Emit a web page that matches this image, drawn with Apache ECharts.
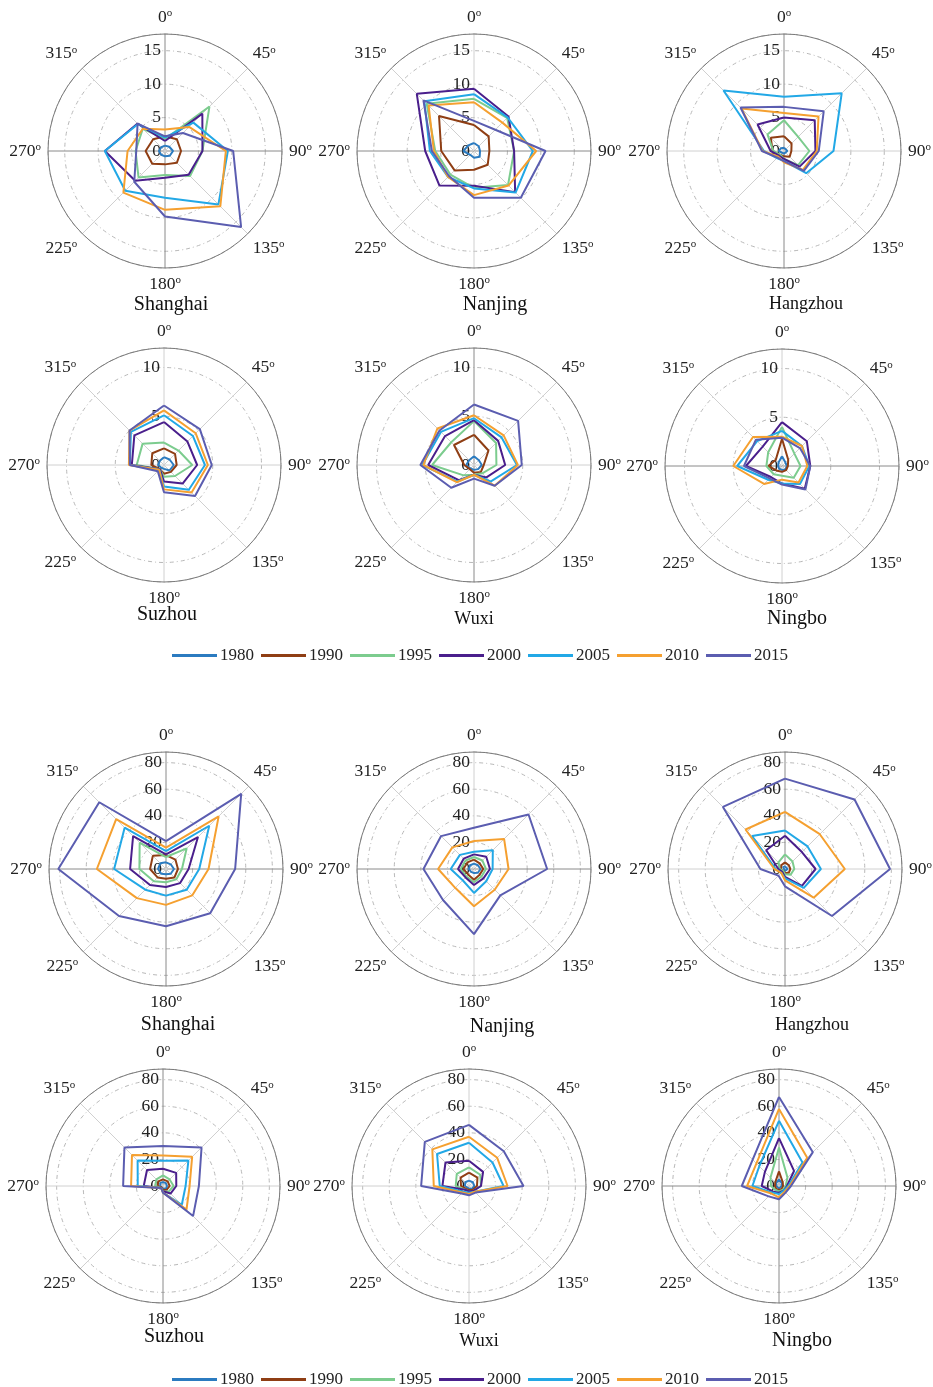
<!DOCTYPE html>
<html><head><meta charset="utf-8">
<script src="https://cdn.jsdelivr.net/npm/echarts@6/dist/echarts.min.js"></script>
<style>html,body{margin:0;padding:0;background:#fff}#c{width:933px;height:1387px}</style>
</head><body><div id="c"></div>
<script>
const years = ['1980','1990','1995','2000','2005','2010','2015'];
const colors = ['#2b7bc0','#8f3e14','#7ccc8e','#4a1f8c','#22a8e6','#f5a030','#5b5db0'];
const angles = [0,45,90,135,180,225,270,315];

// rows: years; columns: angles 0..315
const shanghaiTop = [
 [0.8,0.9,1.2,1.0,0.8,0.8,0.9,0.8],
 [2.2,2.5,2.4,2.5,2.0,2.7,2.9,2.5],
 [1.8,9.4,5.6,5.3,3.6,5.6,4.4,4.7],
 [1.5,7.9,5.6,5.0,4.0,6.3,9.0,5.8],
 [2.0,6.0,9.4,11.3,7.0,8.4,9.0,5.7],
 [3.2,5.1,9.1,11.7,8.8,8.8,5.6,4.7],
 [2.2,3.8,10.2,16.1,9.8,6.5,4.3,5.8]
];
const nanjingTop = [
 [1.2,1.0,0.9,1.2,1.0,0.8,1.6,1.2],
 [3.9,3.1,2.3,2.9,2.8,4.1,4.9,7.4],
 [7.8,7.0,6.0,7.2,5.5,5.0,5.8,10.0],
 [9.3,7.3,6.0,8.7,5.2,7.3,7.3,12.1],
 [8.5,7.1,8.8,8.8,5.6,5.5,6.6,10.5],
 [7.3,6.0,9.3,7.3,6.6,5.5,6.0,9.6],
 [4.5,4.5,10.7,9.9,7.0,5.3,6.3,10.7]
];
const hangzhouTop = [
 [0.5,0.4,0.5,0.4,0.4,0.4,0.8,0.6],
 [2.2,1.6,1.1,1.2,0.8,0.8,1.7,2.8],
 [4.6,3.0,3.8,3.0,1.2,0.8,1.6,3.5],
 [5.0,6.5,4.7,3.3,1.2,1.0,2.0,5.6],
 [8.1,12.2,7.4,4.7,1.5,1.5,3.0,12.8],
 [5.7,7.3,4.9,4.0,1.7,1.2,3.2,9.0],
 [6.6,8.4,5.2,4.2,1.5,1.4,3.3,9.2]
];
const suzhouTop = [
 [0.8,0.8,1.0,0.8,0.4,0.4,0.6,0.6],
 [1.7,1.6,1.3,1.0,0.9,0.6,1.3,1.7],
 [2.3,2.1,2.9,1.6,1.2,0.6,2.8,3.1],
 [4.4,3.4,3.4,2.7,1.7,0.6,3.3,4.3],
 [5.1,4.2,4.2,3.6,2.2,0.7,3.5,4.8],
 [5.6,4.6,4.5,4.0,2.5,0.7,3.6,5.0],
 [6.1,5.2,4.9,4.5,2.8,0.9,3.5,5.0]
];
const wuxiTop = [
 [0.9,0.7,0.8,0.6,0.5,0.5,0.8,0.7],
 [3.1,2.1,1.0,1.0,0.8,0.6,1.0,2.9],
 [4.5,3.2,2.3,1.2,1.0,1.5,4.3,3.3],
 [4.6,3.5,3.2,1.8,1.0,2.2,4.7,4.2],
 [4.8,4.0,4.4,2.4,1.0,2.4,5.3,4.8],
 [5.1,4.3,4.5,3.0,1.0,2.5,5.2,5.3],
 [6.2,6.4,4.9,3.0,1.4,3.3,5.5,5.0]
];
const ningboTop = [
 [1.0,0.5,0.5,0.5,0.4,0.4,0.4,0.5],
 [2.8,0.9,0.6,0.6,0.6,0.7,1.4,0.9],
 [4.0,1.8,1.9,1.7,1.0,1.2,1.6,2.0],
 [4.5,3.6,2.9,3.3,1.8,1.6,3.7,2.8],
 [3.6,2.9,2.8,2.6,1.8,2.0,4.6,3.6],
 [3.0,2.9,2.6,2.4,1.4,2.6,5.0,4.2],
 [2.9,2.6,2.9,3.4,1.9,1.8,3.9,3.8]
];
const shanghaiBottom = [
 [5,5,6,5,4,5,6,6],
 [10.5,10,9,9,7.4,9,12,14],
 [9,22,12,11,10,13,20,28],
 [11,34,17,15,13.5,17,27,35],
 [13.5,46,25,22,20,22,39,44],
 [16,56,32,28,27,31,52,53],
 [21,80,52,47,43,50,81,71]
];
const nanjingBottom = [
 [4,4,5,4,3,3,4,4],
 [7,6,7,6,8,6,8,7],
 [9,9,9,8,10,8,10,9],
 [11,13,12,10,12,9,12,11],
 [13,20,14,13,18,12,17.5,15],
 [21,32,26,22,28,20,27,23],
 [31,58,55,28,49,33,38,35]
];
const hangzhouBottom = [
 [2,2,2,2,1.5,1.5,1.5,2],
 [5,4,4,4,3,2,3,4],
 [11,8,7,6,4,2,4,7],
 [25,18,23,18,6,3,5,20],
 [29,24,27,20,7,4,7,35],
 [43,37,45,30.5,8.5,4,8,42],
 [68,74,79,50,13,7,18.5,66]
];
const suzhouBottom = [
 [3,3,3,3,2,1.5,2,3],
 [5,5,5,4,3,1.5,4,5],
 [8,7,8,6,4,2,6,7],
 [13,14,10,8,4,2,14.5,17],
 [19,27,17,20,5,2,19,27],
 [23,31,20,25,5,2,24,33],
 [30,41,27,32,5,2,30,41]
];
const wuxiBottom = [
 [4,4,4,3,2,2,3,4],
 [10,9,6,4,3,3,6,9],
 [14,12,9,5,4,4,10,13],
 [19,15,9,5,4,4,20,25],
 [32.5,25,26,6,5,6,22,34],
 [37,30,29,6,6,7,26.5,39],
 [46,37,41,7,7,8,36,47]
];
const ningboBottom = [
 [5,3,2,2,2,2,2,3],
 [11,4,3,3,3,3,3,4],
 [29,9,5,4,4,4,6,9],
 [36,16,6,5,5,6,13,15],
 [49,25,7,5,6,7,20,21],
 [58,30,8,6,8.5,8,24,24],
 [67,36,9,7,10,11,28,28]
];

const panels = [
 {title:'Shanghai', data:shanghaiTop, cx:165, cy:151, max:17.5, step:5, spokes:'both', tx:171, ty:305, fs:20},
 {title:'Nanjing', data:nanjingTop, cx:474, cy:151, max:17.5, step:5, spokes:'h', tx:495, ty:305, fs:20},
 {title:'Hangzhou', data:hangzhouTop, cx:784, cy:151, max:17.5, step:5, spokes:'v', tx:806, ty:304, fs:18},
 {title:'Suzhou', data:suzhouTop, cx:164, cy:465, max:12, step:5, spokes:'none', tx:167, ty:615, fs:20},
 {title:'Wuxi', data:wuxiTop, cx:474, cy:465, max:12, step:5, spokes:'v', tx:474, ty:619, fs:18},
 {title:'Ningbo', data:ningboTop, cx:782, cy:466, max:12, step:5, spokes:'h', tx:797, ty:619, fs:20},
 {title:'Shanghai', data:shanghaiBottom, cx:166, cy:869, max:88, step:20, spokes:'both', tx:178, ty:1025, fs:20},
 {title:'Nanjing', data:nanjingBottom, cx:474, cy:869, max:88, step:20, spokes:'h', tx:502, ty:1027, fs:20},
 {title:'Hangzhou', data:hangzhouBottom, cx:785, cy:869, max:88, step:20, spokes:'v', tx:812, ty:1025, fs:18},
 {title:'Suzhou', data:suzhouBottom, cx:163, cy:1186, max:88, step:20, spokes:'v', tx:174, ty:1337, fs:20},
 {title:'Wuxi', data:wuxiBottom, cx:469, cy:1186, max:88, step:20, spokes:'none', tx:479, ty:1341, fs:18},
 {title:'Ningbo', data:ningboBottom, cx:779, cy:1186, max:88, step:20, spokes:'both', tx:802, ty:1341, fs:20}
];

const SERIF = "'Liberation Serif','DejaVu Serif',serif";
const DARK = '#8a8a8a', LIGHT = '#d0d0d0';
function spokeColors(k){
  if (k==='both') return [DARK, LIGHT];
  if (k==='v') return [DARK, LIGHT, LIGHT, LIGHT];
  if (k==='h') return [LIGHT, LIGHT, DARK, LIGHT];
  return [LIGHT];
}

const polar = [], angleAxis = [], radiusAxis = [], series = [], graphic = [];
panels.forEach((p, i) => {
  polar.push({center:[p.cx, p.cy], radius:117});
  angleAxis.push({
    polarIndex:i, type:'value', min:0, max:360, interval:45, startAngle:90, clockwise:true,
    axisLine:{show:true, lineStyle:{color:'#7a7a7a', width:1}},
    axisTick:{show:false},
    axisLabel:{margin:7, formatter:v => v>=360 ? '' : '{n|'+v+'}{o|o}',
      rich:{n:{fontFamily:SERIF, fontSize:17.5, color:'#222'}, o:{fontFamily:SERIF, fontSize:11, color:'#222', padding:[0,0,8,0]}}},
    splitLine:{show:true, lineStyle:{color:spokeColors(p.spokes), width:1}}
  });
  radiusAxis.push({
    polarIndex:i, type:'value', min:0, max:p.max, interval:p.step,
    axisLine:{show:false}, axisTick:{show:false},
    axisLabel:{fontFamily:SERIF, fontSize:17.5, color:'#222', margin:4,
      formatter:v => (v % p.step === 0 && v < p.max) ? String(v) : ''},
    splitLine:{show:true, lineStyle:{color:'#b8b8b8', width:1, type:[4,3,1,3]}}
  });
  p.data.forEach((vals, j) => {
    const pts = vals.map((v, k) => [v, angles[k]]);
    pts.push([vals[0], 360]);
    series.push({
      type:'line', name:years[j], coordinateSystem:'polar', polarIndex:i,
      data:pts, symbol:'none', smooth:false, z:2+j,
      lineStyle:{color:colors[j], width:2}, itemStyle:{color:colors[j]}
    });
  });
  graphic.push({type:'text', x:p.tx, y:p.ty, style:{text:p.title, font:'500 '+p.fs+'px '+SERIF, fill:'#111', align:'center', verticalAlign:'middle'}});
});

const legendBase = {
  data:years, left:167, itemWidth:45, itemHeight:3, icon:'rect', itemGap:7,
  textStyle:{fontFamily:SERIF, fontSize:17, color:'#222', padding:[0,0,0,-2]}
};
const option = {
  animation:false,
  backgroundColor:'#fff',
  color:colors,
  polar, angleAxis, radiusAxis, series, graphic,
  legend:[Object.assign({top:642}, legendBase), Object.assign({top:1366}, legendBase)]
};
const chart = echarts.init(document.getElementById('c'), null, {renderer:'canvas'});
chart.setOption(option);
</script>
</body></html>
